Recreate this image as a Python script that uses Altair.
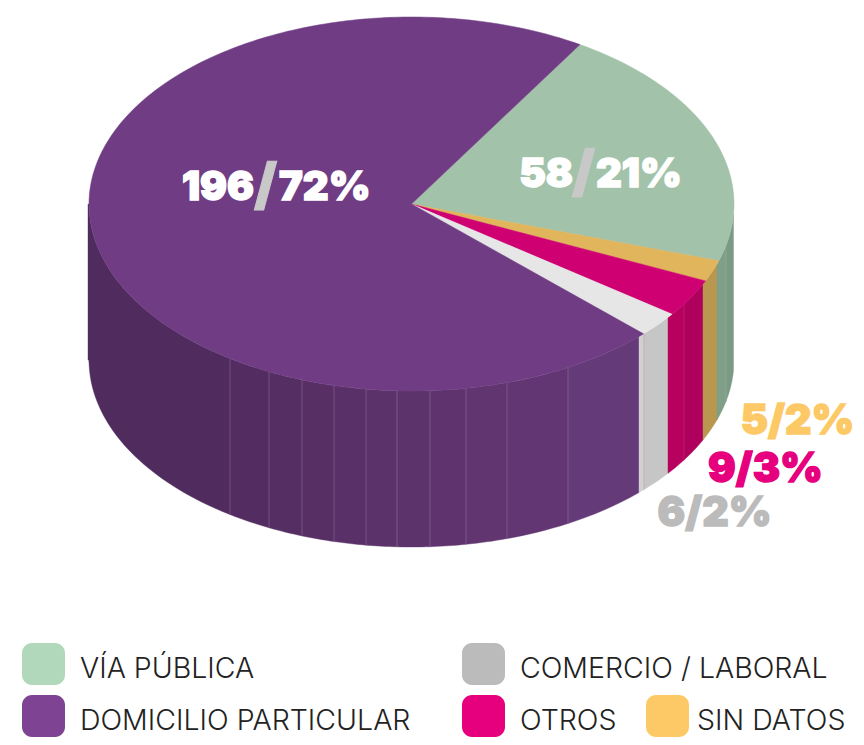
import math
import altair as alt
import pandas as pd

# slices, clockwise from the start angle
categories = ["VÍA PÚBLICA", "SIN DATOS", "OTROS", "COMERCIO / LABORAL", "DOMICILIO PARTICULAR"]
counts = [58, 5, 9, 6, 196]
top_colors = ["#A2C3AA", "#E0B55C", "#CF0072", "#E6E6E6", "#703D84"]

# pie geometry, in page pixels
CX, CY, RX, RY, DEPTH = 411.5, 204.0, 322.5, 187.0, 156.0
START = 58.5

# side facets: left edge, right edge, colour
side_edges = [88, 230, 269, 302, 334, 366, 397, 430, 466, 507, 568, 639, 644, 668, 684, 703, 717, 726, 733.5]
side_colors = ["#502B5E", "#532C61", "#552E63", "#572F65", "#593067", "#5B326A", "#5D336C", "#5F346E",
               "#603570", "#623672", "#653A78", "#D0D0D0", "#C6C6C6", "#B8005E", "#AE005C", "#B9974F",
               "#7F9F88", "#7B9A84"]
line_edges = [230, 269, 302, 334, 366, 397, 430, 466, 507, 568, 644, 684, 726]
line_colors = ["#7E5A8C", "#7E5A8C", "#7E5A8C", "#7E5A8C", "#7E5A8C", "#85628F", "#85628F", "#85628F",
               "#85628F", "#85628F", "#C9A5B8", "#C0206F", "#8FAB98"]

# value labels
big_labels = [
    (254, 188, "196", "/", "72%", 279),
    (573, 175, "58", "/", "21%", 596),
]
small_labels = ["5/2%", "9/3%", "6/2%"]
small_colors = ["#FDC966", "#E6007E", "#BBBBBB"]
small_x = [797.5, 765.5, 714.5]
small_y = [422, 470, 514]

# legend
legend_names = ["VÍA PÚBLICA", "COMERCIO / LABORAL", "DOMICILIO PARTICULAR", "OTROS", "SIN DATOS"]
legend_colors = ["#B1D8BB", "#BBBBBB", "#7F4394", "#E6007E", "#FDC966"]
legend_x = [22, 462, 22, 462, 646]
legend_y = [643, 643, 695, 695, 695]
legend_text_x = [80, 520, 80, 520, 697]
legend_text_y = [678, 678, 730, 730, 730]

W, H = 848, 729
X = alt.X("x:Q", scale=alt.Scale(domain=[8, 8 + W], nice=False, zero=False), axis=None)
Y = alt.Y("y:Q", scale=alt.Scale(domain=[8 + H, 8], nice=False, zero=False), axis=None)

# top wedges
rows = []
a = START
total = sum(counts)
for i, (c, col) in enumerate(zip(counts, top_colors)):
    sweep = 360 * c / total
    steps = max(4, int(sweep))
    rows.append(dict(w=i, o=0, x=CX, y=CY, c=col))
    for s in range(steps + 1):
        t = math.radians(a - sweep * s / steps)
        rows.append(dict(w=i, o=s + 1, x=CX + RX * math.cos(t), y=CY - RY * math.sin(t), c=col))
    rows.append(dict(w=i, o=steps + 2, x=CX, y=CY, c=col))
    a -= sweep
top = alt.Chart(pd.DataFrame(rows)).mark_line(strokeWidth=0.5, clip=False, interpolate="linear").encode(
    X, Y, detail="w:N", order="o:Q",
    fill=alt.Fill("c:N", scale=None), stroke=alt.Stroke("c:N", scale=None),
)

# sides
def lower(x):
    u = max(-1, min(1, (x - CX) / RX))
    return CY + RY * math.sqrt(1 - u * u)

rows = []
for i, col in enumerate(side_colors):
    x0, x1 = side_edges[i], side_edges[i + 1]
    n = 40 if i in (0, len(side_colors) - 1) else 8
    for s in range(n + 1):
        f = s / n
        if i == 0:
            f = f ** 2
        if i == len(side_colors) - 1:
            f = 1 - (1 - f) ** 2
        x = x0 + (x1 - x0) * f
        rows.append(dict(w=i, x=x, y=lower(x), y2=lower(x) + DEPTH, c=col))
side = alt.Chart(pd.DataFrame(rows)).mark_area(strokeWidth=0.4, interpolate="linear").encode(
    X, Y, y2="y2:Q", detail="w:N",
    fill=alt.Fill("c:N", scale=None), stroke=alt.Stroke("c:N", scale=None),
)

lines = alt.Chart(pd.DataFrame(
    [dict(x=x, y=lower(x), y2=lower(x) + DEPTH, c=c) for x, c in zip(line_edges, line_colors)]
)).mark_rule(strokeWidth=0.8).encode(X, Y, y2="y2:Q", stroke=alt.Stroke("c:N", scale=None))

# big labels
num = alt.Chart(pd.DataFrame(
    [dict(x=l[0], y=l[1], t=l[2]) for l in big_labels]
)).mark_text(font="Inter", fontWeight=900, fontSize=40, color="white", stroke="white", strokeWidth=1.5,
             align="right", baseline="middle").encode(X, Y, text="t:N")
pct = alt.Chart(pd.DataFrame(
    [dict(x=l[5], y=l[1], t=l[4]) for l in big_labels]
)).mark_text(font="Inter", fontWeight=900, fontSize=40, color="white", stroke="white", strokeWidth=1.5,
             align="left", baseline="middle").encode(X, Y, text="t:N")
slash = alt.Chart(pd.DataFrame(
    [dict(x=(l[0] + l[5]) / 2 - 1, y=l[1] - 1, t=l[3]) for l in big_labels]
)).mark_text(font="Inter", fontWeight=900, fontSize=56, color="#C8C8C8", stroke="#C8C8C8", strokeWidth=1,
             align="center", baseline="middle").encode(X, Y, text="t:N")

small = alt.Chart(pd.DataFrame(dict(x=small_x, y=small_y, t=small_labels, c=small_colors))).mark_text(
    font="Inter", fontWeight=900, fontSize=41, strokeWidth=1.4, align="center", baseline="middle"
).encode(X, Y, text="t:N", fill=alt.Fill("c:N", scale=None), stroke=alt.Stroke("c:N", scale=None))

# legend
sw = alt.Chart(pd.DataFrame(dict(
    x=legend_x, x2=[v + 43 for v in legend_x], y=legend_y,
    y2=[v + 42 for v in legend_y], c=legend_colors
))).mark_rect(cornerRadius=10).encode(X, Y, x2="x2:Q", y2="y2:Q", fill=alt.Fill("c:N", scale=None))
lt = alt.Chart(pd.DataFrame(dict(
    x=legend_text_x, y=legend_text_y, t=legend_names
))).mark_text(font="Inter", fontWeight=300, fontSize=28.5, color="#222222", align="left", baseline="alphabetic").encode(X, Y, text="t:N")

chart = alt.layer(side, lines, top, num, slash, pct, small, sw, lt).properties(
    width=W, height=H, padding=0, autosize=alt.AutoSizeParams(type="none"),
    background="white",
).configure_view(stroke=None)
chart.save("out.html", embed_options={"renderer": "svg", "actions": False})
